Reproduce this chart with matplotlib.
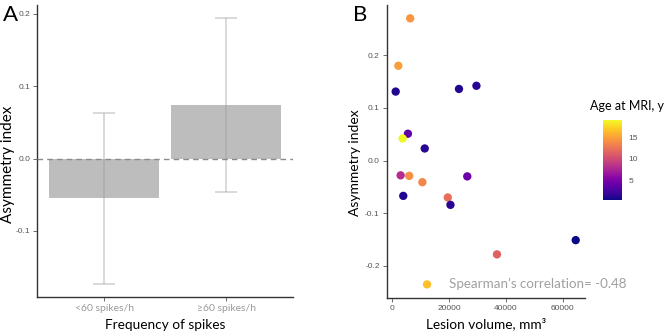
import matplotlib
matplotlib.use("Agg")
import matplotlib.pyplot as plt
import numpy as np

# Panel A data
categories = ["<60 spikes/h", "\u226560 spikes/h"]
bar_means = [-0.054, 0.074]
err_low = [-0.173, -0.046]
err_high = [0.063, 0.194]

# Panel B data
lesion_volume = [6270, 2090, 1160, 23450, 29600, 5470, 3600, 11390, 2900, 5920,
                 26370, 10560, 3830, 19510, 20450, 64560, 36830, 12200]
asym_index = [0.270, 0.180, 0.131, 0.136, 0.142, 0.051, 0.042, 0.023, -0.028, -0.029,
              -0.030, -0.041, -0.067, -0.070, -0.084, -0.151, -0.178, -0.235]
age_mri = [14.4, 14.8, 1.0, 1.0, 1.2, 3.6, 19.0, 1.2, 8.0, 14.0,
           4.2, 13.6, 1.0, 12.2, 1.2, 0.4, 11.4, 16.5]
cbar_ticks = [5, 10, 15]
spearman_text = "Spearman\u2019s correlation= -0.48"

LAB = ["Lato", "DejaVu Sans"]
TICK = ["Liberation Sans", "DejaVu Sans"]

fig = plt.figure(figsize=(6.69, 3.36), dpi=100)

# ---------- Panel A ----------
axA = fig.add_axes([0.0553, 0.116, 0.383, 0.869])
x = np.arange(len(categories)) + 1
axA.bar(x, bar_means, width=0.9, color="#bdbdbd", zorder=1)
means = np.array(bar_means)
yerr = np.array([means - np.array(err_low), np.array(err_high) - means])
axA.errorbar(x, bar_means, yerr=yerr, fmt="none", ecolor="#9a9a9a", alpha=0.4,
             elinewidth=1.3, capsize=8, capthick=1.3, zorder=2)
axA.axhline(0, color="#8a8a8a", linestyle=(0, (4, 3)), linewidth=1.0, zorder=3)
lo = min(err_low); hi = max(err_high); r = hi - lo
axA.set_ylim(lo - 0.05 * r, hi + 0.05 * r)
axA.set_xlim(0.45, 2.55)
axA.set_xticks(x)
axA.set_xticklabels(categories, color="#9a9a9a", fontsize=7.5, family=LAB)
axA.set_yticks([-0.1, 0.0, 0.1, 0.2])
axA.set_yticklabels(["-0.1", "0.0", "0.1", "0.2"], color="#555555", fontsize=6, family=TICK)
axA.set_ylabel("Asymmetry index", fontsize=11, family=LAB)
axA.yaxis.set_label_coords(-0.086, 0.455)
axA.set_xlabel("Frequency of spikes", fontsize=9.8, family=LAB, labelpad=4)
for s in ["top", "right"]:
    axA.spines[s].set_visible(False)
for s in ["left", "bottom"]:
    axA.spines[s].set_color("#333333")
    axA.spines[s].set_linewidth(1.0)
axA.tick_params(length=3, width=0.6, color="#555555", pad=2)
fig.text(0.005, 0.955, "A", fontsize=16, family=LAB, va="center")

# ---------- Panel B ----------
axB = fig.add_axes([0.578, 0.114, 0.296, 0.871])
sc = axB.scatter(lesion_volume, asym_index, c=age_mri, cmap="plasma",
                 vmin=0.4, vmax=19.0, s=36, edgecolors="none", zorder=3)
xr = max(lesion_volume) - min(lesion_volume)
axB.set_xlim(min(lesion_volume) - 0.05 * xr, max(lesion_volume) + 0.05 * xr)
yr = max(asym_index) - min(asym_index)
axB.set_ylim(min(asym_index) - 0.05 * yr, max(asym_index) + 0.05 * yr)
axB.set_xticks([0, 20000, 40000, 60000])
axB.set_xticklabels(["0", "20000", "40000", "60000"], color="#555555", fontsize=6, family=TICK)
axB.set_yticks([-0.2, -0.1, 0.0, 0.1, 0.2])
axB.set_yticklabels(["-0.2", "-0.1", "0.0", "0.1", "0.2"], color="#555555", fontsize=6, family=TICK)
axB.set_ylabel("Asymmetry index", fontsize=10, family=LAB)
axB.yaxis.set_label_coords(-0.132, 0.462)
axB.set_xlabel("Lesion volume, mm\u00b3", fontsize=9.8, family=LAB, labelpad=4)
for s in ["top", "right"]:
    axB.spines[s].set_visible(False)
for s in ["left", "bottom"]:
    axB.spines[s].set_color("#333333")
    axB.spines[s].set_linewidth(1.0)
axB.tick_params(length=3, width=0.6, color="#555555", pad=2)
axB.text(0.313, 0.047, spearman_text, transform=axB.transAxes, fontsize=9.6,
         color="#a0a0a0", family=LAB, va="center", ha="left", clip_on=False)
fig.text(0.527, 0.955, "B", fontsize=16, family=LAB, va="center")

# Colorbar
cax = fig.add_axes([0.901, 0.405, 0.028, 0.238])
cb = fig.colorbar(sc, cax=cax, ticks=cbar_ticks)
cb.outline.set_visible(False)
cb.ax.tick_params(labelsize=6, length=3, color="white", labelcolor="#555555", pad=2)
for t in cb.ax.get_yticklabels():
    t.set_family(TICK)
fig.text(0.882, 0.685, "Age at MRI, y", fontsize=9, family=LAB, ha="left", va="center")

fig.savefig("out.png", dpi=100)
